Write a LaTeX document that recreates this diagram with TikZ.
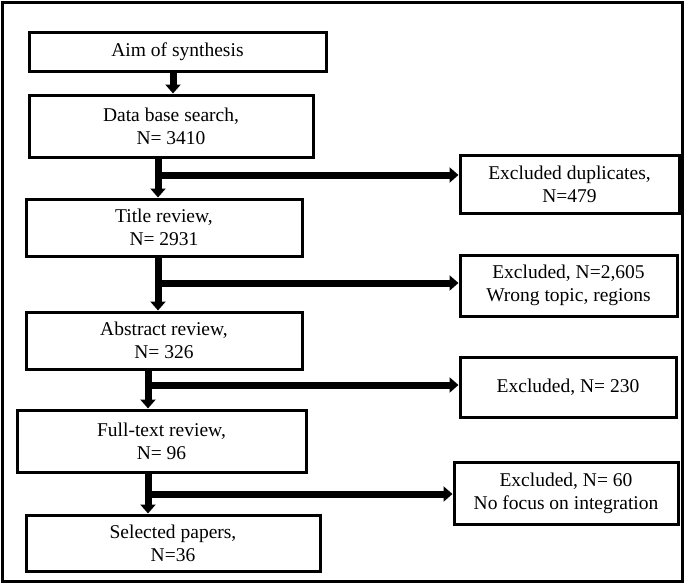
\documentclass[tikz,border=0pt]{standalone}
\usepackage{fontspec}
\setmainfont{Liberation Serif}
\usetikzlibrary{shapes}
\usetikzlibrary{calc}
\usetikzlibrary{arrows.meta}

\begin{document}
\begin{tikzpicture}[x=1pt, y=-1pt,
	box/.style={draw, rectangle, line width=3pt, inner sep=0pt, align=center,
		font=\fontsize{19.5}{23}\selectfont},
	trunk/.style={line width=8pt},
	arr/.style={line width=7pt, -{Triangle[width=15pt, length=9pt]}}]
	\useasboundingbox (0,0) rectangle (685,584);
	\draw[line width=3pt] (2.5,2.5) rectangle (682.5,581.5);
	% main column
	\node[box, minimum width=297pt, minimum height=39pt] (aim) at (177.5,51.5) {Aim of synthesis};
	\node[box, minimum width=284pt, minimum height=62pt] (data) at (171,126) {Data base search,\\N= 3410};
	\node[box, minimum width=276pt, minimum height=57pt] (title) at (164,227.5) {Title review,\\N= 2931};
	\node[box, minimum width=276pt, minimum height=57pt] (abstract) at (164,340.5) {Abstract review,\\N= 326};
	\node[box, minimum width=289pt, minimum height=62pt] (full) at (161.5,441) {Full-text review,\\N= 96};
	\node[box, minimum width=294pt, minimum height=56pt] (sel) at (173,543) {Selected papers,\\N=36};
	% excluded column
	\node[box, minimum width=219pt, minimum height=58pt] (dup) at (569.5,184) {Excluded duplicates,\\N=479};
	\node[box, minimum width=217pt, minimum height=61pt] (ex1) at (568.5,285.5) {Excluded, N=2,605\\Wrong topic, regions};
	\node[box, minimum width=216pt, minimum height=60pt] (ex2) at (568,387) {Excluded, N= 230};
	\node[box, minimum width=224pt, minimum height=62pt] (ex3) at (566,493) {Excluded, N= 60\\No focus on integration};
	% branch points
	\coordinate (a0) at (173,0);
	\coordinate (b1) at (158,175);
	\coordinate (b2) at (158,283);
	\coordinate (b3) at (148,385);
	\coordinate (b4) at (148,494);
	\draw[arr] (aim.south -| a0) -- (data.north -| a0);
	\draw[arr] (data.south -| b1) -- (title.north -| b1);
		\draw[arr] ($(b1)+(-3.5,0)$) -- (dup.west |- b1);
	\draw[arr] (title.south -| b2) -- (abstract.north -| b2);
		\draw[arr] ($(b2)+(-3.5,0)$) -- (ex1.west |- b2);
	\draw[arr] (abstract.south -| b3) -- (full.north -| b3);
		\draw[arr] ($(b3)+(-3.5,0)$) -- (ex2.west |- b3);
	\draw[arr] (full.south -| b4) -- (sel.north -| b4);
		\draw[arr] ($(b4)+(-3.5,0)$) -- (ex3.west |- b4);
\end{tikzpicture}
\end{document}
